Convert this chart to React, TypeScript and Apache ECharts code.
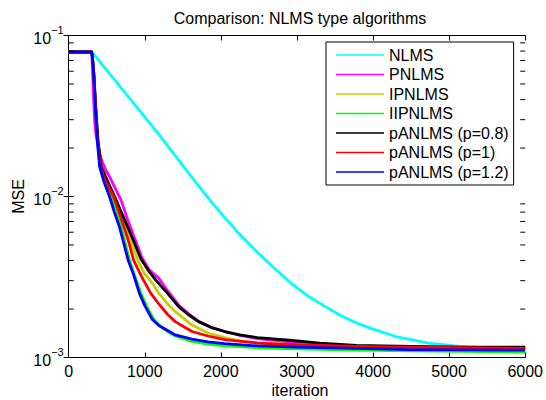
import React, { useEffect, useRef } from "react";
import * as echarts from "echarts";

const FONT = '"Liberation Sans", Arial, Helvetica, sans-serif';

const SERIES_NAMES = [
  "NLMS",
  "PNLMS",
  "IPNLMS",
  "IIPNLMS",
  "pANLMS (p=0.8)",
  "pANLMS (p=1)",
  "pANLMS (p=1.2)",
];
const SERIES_COLORS = ["#00ffff", "#ff00ff", "#cccc00", "#00ff00", "#000000", "#ff0000", "#0000ff"];

const X_TICKS = [0, 1000, 2000, 3000, 4000, 5000, 6000];
const Y_MAJOR = [0.001, 0.01, 0.1];
const Y_MINOR = [0.002, 0.003, 0.004, 0.005, 0.006, 0.007, 0.008, 0.009, 0.02, 0.03, 0.04, 0.05, 0.06, 0.07, 0.08, 0.09];

const NLMS_IT = [0, 300, 320, 750, 1185, 1445, 1650, 1857, 2050, 2250, 2480, 2700, 2920, 3150, 3350, 3550, 3780, 4000, 4300, 4730, 5170, 5600, 6000];
const NLMS_MSE = [0.079, 0.079, 0.0775, 0.0435, 0.0243, 0.0168, 0.0126, 0.0095, 0.0074, 0.0058, 0.0045, 0.0036, 0.0029, 0.0024, 0.0021, 0.00185, 0.00164, 0.0015, 0.00135, 0.00123, 0.00117, 0.00114, 0.00112];

const PNLMS_IT = [0, 300, 305, 320, 340, 360, 390, 420, 449, 490, 536, 600, 688, 774, 860, 960, 1060, 1185, 1300, 1445, 1570, 1705, 1870, 2050, 2250, 2480, 2900, 3300, 3780, 4500, 5200, 6000];
const PNLMS_MSE = [0.079, 0.079, 0.076, 0.05, 0.03, 0.024, 0.0205, 0.0175, 0.0161, 0.0145, 0.0133, 0.0115, 0.0095, 0.0072, 0.0056, 0.0042, 0.0035, 0.0031, 0.0026, 0.00212, 0.00188, 0.00168, 0.00154, 0.00145, 0.00137, 0.00131, 0.00125, 0.0012, 0.00117, 0.00116, 0.00115, 0.00115];

const IPNLMS_IT = [0, 300, 310, 330, 354, 382, 420, 490, 610, 680, 750, 830, 910, 1000, 1100, 1185, 1300, 1400, 1620, 1830, 2050, 2270, 2600, 3000, 3780, 4500, 6000];
const IPNLMS_MSE = [0.079, 0.079, 0.075, 0.058, 0.036, 0.0224, 0.0153, 0.0125, 0.01, 0.008, 0.0065, 0.0051, 0.004, 0.0033, 0.0029, 0.0025, 0.00215, 0.00193, 0.00159, 0.00142, 0.00133, 0.00126, 0.00122, 0.0012, 0.00117, 0.00116, 0.00115];

const IIPNLMS_IT = [0, 300, 310, 330, 352, 378, 412, 470, 560, 625, 690, 745, 800, 870, 950, 1020, 1120, 1200, 1300, 1400, 1620, 1830, 2050, 2480, 3000, 3780, 4500, 6000];
const IIPNLMS_MSE = [0.079, 0.079, 0.075, 0.058, 0.036, 0.0224, 0.0153, 0.0125, 0.01, 0.008, 0.0065, 0.0051, 0.004, 0.0032, 0.0025, 0.0021, 0.00172, 0.00157, 0.00145, 0.00136, 0.00126, 0.00121, 0.00118, 0.00115, 0.00113, 0.00111, 0.0011, 0.00108];

const P08_IT = [0, 300, 310, 330, 355, 385, 428, 500, 601, 700, 774, 860, 948, 1060, 1150, 1300, 1445, 1570, 1705, 1870, 2050, 2250, 2480, 2900, 3300, 3780, 4500, 5200, 6000];
const P08_MSE = [0.079, 0.079, 0.075, 0.058, 0.036, 0.0224, 0.0153, 0.0128, 0.01, 0.0078, 0.0065, 0.0052, 0.0041, 0.0034, 0.003, 0.0025, 0.00207, 0.00185, 0.00167, 0.00154, 0.00145, 0.00138, 0.00133, 0.00128, 0.00123, 0.00119, 0.00117, 0.00116, 0.00116];

const P1_IT = [0, 300, 310, 330, 353, 380, 415, 480, 590, 660, 730, 790, 855, 970, 1080, 1185, 1300, 1400, 1620, 1830, 2050, 2480, 3000, 3780, 4500, 5200, 6000];
const P1_MSE = [0.079, 0.079, 0.075, 0.058, 0.036, 0.0224, 0.0153, 0.0125, 0.01, 0.008, 0.0064, 0.0052, 0.004, 0.0031, 0.0025, 0.00215, 0.00185, 0.00167, 0.00145, 0.00136, 0.00129, 0.00123, 0.0012, 0.00117, 0.00116, 0.00115, 0.00114];

const P12_IT = [0, 300, 310, 328, 350, 375, 407, 460, 536, 600, 666, 725, 783, 850, 930, 1000, 1100, 1185, 1300, 1400, 1620, 1830, 2050, 2480, 3000, 3780, 4500, 6000];
const P12_MSE = [0.079, 0.079, 0.075, 0.058, 0.036, 0.0224, 0.0153, 0.0125, 0.01, 0.008, 0.0065, 0.0051, 0.004, 0.0033, 0.0025, 0.0021, 0.00172, 0.00158, 0.00147, 0.00138, 0.0013, 0.00125, 0.00122, 0.00118, 0.00116, 0.00114, 0.00112, 0.00111];

const SERIES_IT = [NLMS_IT, PNLMS_IT, IPNLMS_IT, IIPNLMS_IT, P08_IT, P1_IT, P12_IT];
const SERIES_MSE = [NLMS_MSE, PNLMS_MSE, IPNLMS_MSE, IIPNLMS_MSE, P08_MSE, P1_MSE, P12_MSE];

const GRID = { left: 68.7, right: 15.3, top: 35.5, bottom: 42.5 };

export default function App() {
  const ref = useRef<HTMLDivElement>(null);

  useEffect(() => {
    document.body.style.margin = "0";
    if (!ref.current) return;
    const chart = echarts.init(ref.current, undefined, { renderer: "svg" });

    const lineSeries = SERIES_NAMES.map((name, i) => ({
      name,
      type: "line",
      xAxisIndex: 0,
      yAxisIndex: 0,
      data: SERIES_IT[i].map((x, j) => [x, SERIES_MSE[i][j]]),
      symbol: "none",
      showSymbol: false,
      smooth: false,
      lineStyle: { color: SERIES_COLORS[i], width: 2.8, join: "round" },
      itemStyle: { color: SERIES_COLORS[i] },
      z: 2 + i,
      silent: true,
    }));

    const tickSeries = {
      type: "custom",
      xAxisIndex: 0,
      yAxisIndex: 0,
      silent: true,
      clip: false,
      z: 20,
      encode: { x: 0, y: 1 },
      data: Y_MINOR.map((v) => [X_TICKS[0], v]),
      renderItem: (params: any, api: any) => {
        const v = api.value(1);
        const l = api.coord([X_TICKS[0], v]);
        const r = api.coord([X_TICKS[X_TICKS.length - 1], v]);
        return {
          type: "group",
          children: [
            { type: "line", shape: { x1: l[0], y1: l[1], x2: l[0] + 5, y2: l[1] }, style: { stroke: "#000", lineWidth: 1 } },
            { type: "line", shape: { x1: r[0] - 5, y1: r[1], x2: r[0], y2: r[1] }, style: { stroke: "#000", lineWidth: 1 } },
          ],
        };
      },
    };

    const axisLine = { show: true, lineStyle: { color: "#000", width: 1 } };
    const axisTick = { show: true, inside: true, length: 5, lineStyle: { color: "#000", width: 1 } };

    const option: any = {
      animation: false,
      textStyle: { fontFamily: FONT },
      grid: { ...GRID, containLabel: false },
      xAxis: [
        {
          type: "value",
          min: X_TICKS[0],
          max: X_TICKS[X_TICKS.length - 1],
          interval: 1000,
          position: "bottom",
          axisLine,
          axisTick,
          splitLine: { show: false },
          axisLabel: {
            color: "#000",
            fontSize: 16,
            fontFamily: FONT,
            margin: 6,
            formatter: (v: number) => String(v),
          },
        },
        {
          type: "value",
          min: X_TICKS[0],
          max: X_TICKS[X_TICKS.length - 1],
          interval: 1000,
          position: "top",
          axisLine,
          axisTick,
          splitLine: { show: false },
          axisLabel: { show: false },
        },
      ],
      yAxis: [
        {
          type: "log",
          logBase: 10,
          min: Y_MAJOR[0],
          max: Y_MAJOR[Y_MAJOR.length - 1],
          position: "left",
          axisLine,
          axisTick,
          splitLine: { show: false },
          axisLabel: {
            margin: 5,
            formatter: (v: number) => {
              const e = Math.round(Math.log10(v));
              return `{b|10}{s|${e < 0 ? "\u2212" : ""}${Math.abs(e)}}`;
            },
            rich: {
              b: { fontSize: 16, fontFamily: FONT, color: "#000", lineHeight: 22, verticalAlign: "bottom" },
              s: { fontSize: 11, fontFamily: FONT, color: "#000", lineHeight: 11, verticalAlign: "top" },
            },
          },
        },
        {
          type: "log",
          logBase: 10,
          min: Y_MAJOR[0],
          max: Y_MAJOR[Y_MAJOR.length - 1],
          position: "right",
          axisLine,
          axisTick,
          splitLine: { show: false },
          axisLabel: { show: false },
        },
      ],
      legend: {
        data: SERIES_NAMES,
        orient: "vertical",
        left: 326,
        top: 42,
        icon: "rect",
        itemWidth: 48,
        itemHeight: 1.5,
        itemGap: 3.5,
        padding: [5, 5, 5, 10],
        borderColor: "#000",
        borderWidth: 1,
        backgroundColor: "#fff",
        selectedMode: false,
        textStyle: { fontSize: 16, fontFamily: FONT, color: "#000", lineHeight: 16 },
        z: 30,
      },
      graphic: [
        {
          type: "text",
          x: 300,
          y: 18,
          style: { text: "Comparison: NLMS type algorithms", fontSize: 16, fontFamily: FONT, fill: "#000", align: "center", verticalAlign: "middle" },
        },
        {
          type: "text",
          x: 300,
          y: 390,
          style: { text: "iteration", fontSize: 16, fontFamily: FONT, fill: "#000", align: "center", verticalAlign: "middle" },
        },
        {
          type: "text",
          x: 18,
          y: 196.5,
          rotation: Math.PI / 2,
          style: { text: "MSE", fontSize: 16, fontFamily: FONT, fill: "#000", align: "center", verticalAlign: "middle" },
        },
      ],
      series: [...lineSeries, tickSeries],
    };

    chart.setOption(option);
    return () => chart.dispose();
  }, []);

  return <div ref={ref} style={{ width: 546, height: 400 }} />;
}
